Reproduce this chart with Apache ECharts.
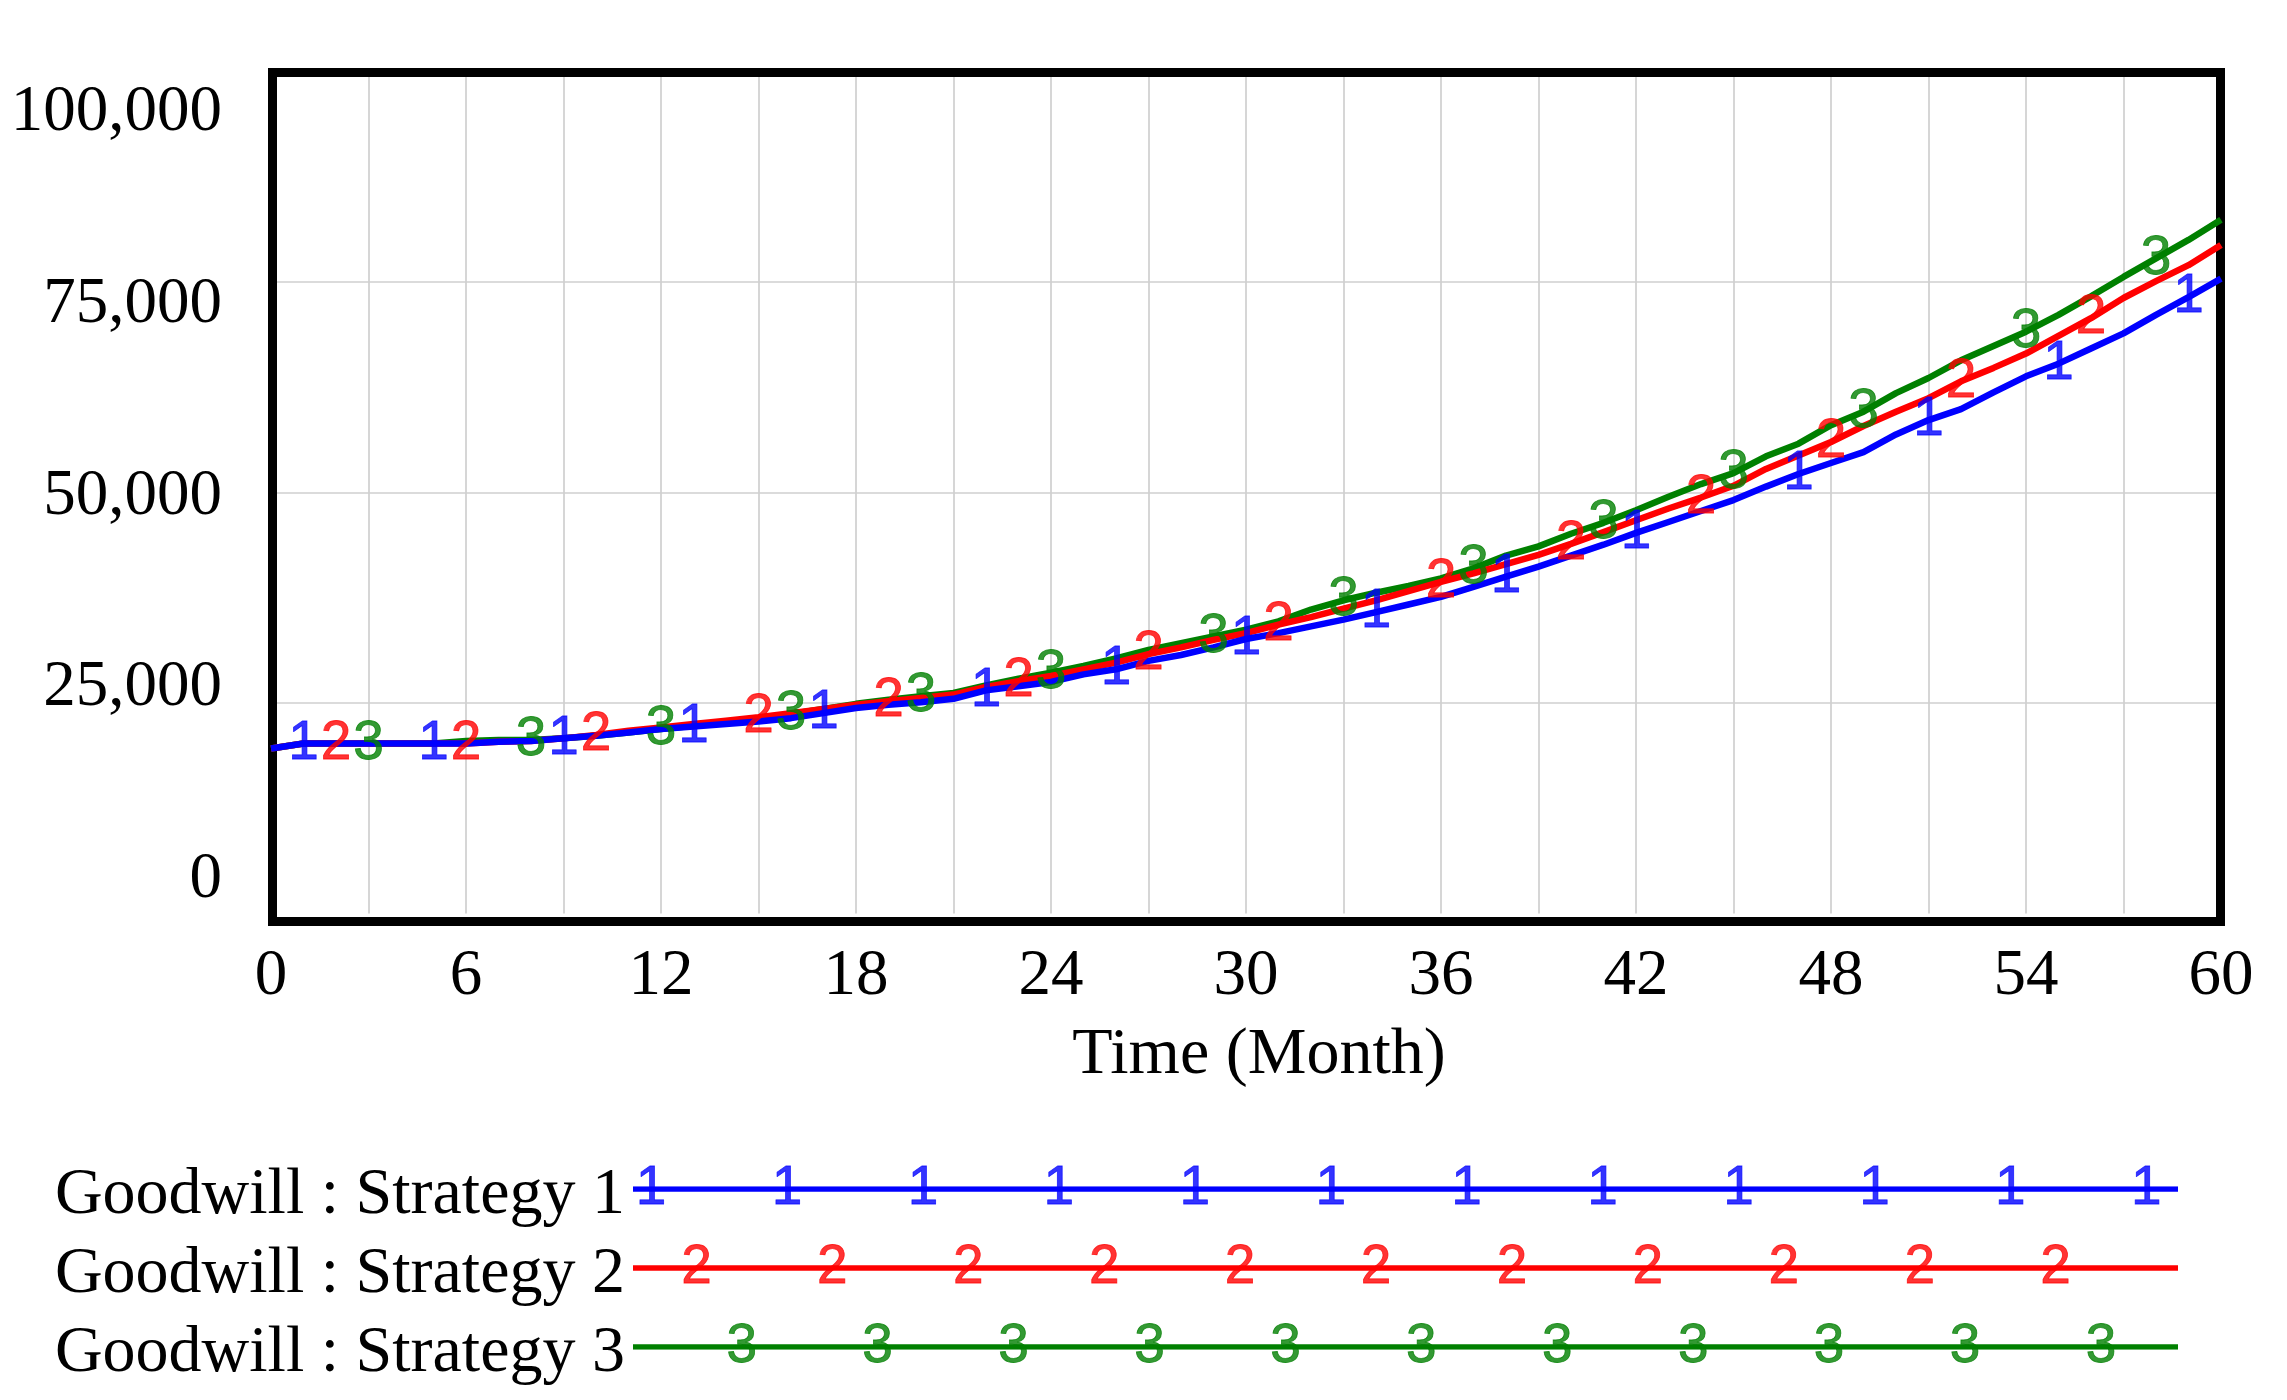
<!DOCTYPE html>
<html><head><meta charset="utf-8">
<script src="https://cdn.jsdelivr.net/npm/echarts@6/dist/echarts.min.js"></script>
<style>html,body{margin:0;padding:0;background:#fff}#c{width:2287px;height:1400px}</style>
</head><body><div id="c"></div>
<script>
// ---- data ----
const seriesNames = ['Goodwill : Strategy 1', 'Goodwill : Strategy 2', 'Goodwill : Strategy 3'];
const seriesColors = ['#0000ff', '#ff0000', '#008000'];
const markerDigits = ['1', '2', '3'];

const months = [0,1,2,3,4,5,6,7,8,9,10,11,12,13,14,15,16,17,18,19,20,21,22,23,24,25,26,27,28,29,30,
  31,32,33,34,35,36,37,38,39,40,41,42,43,44,45,46,47,48,49,50,51,52,53,54,55,56,57,58,59,60];

const strategy1 = [19600,20200,20200,20200,20200,20200,20200,20400,20500,20800,21100,21500,21900,22200,22500,22800,
  23200,23800,24400,24800,25100,25500,26500,27000,27500,28400,29000,30000,30700,31600,32600,
  33300,34100,34900,35800,36700,37600,38800,40000,41200,42500,43800,45200,46500,47800,49100,
  50700,52200,53500,54800,56900,58600,59900,61900,63800,65300,67100,68900,71100,73200,75400];

const strategy2 = [19600,20200,20200,20200,20200,20200,20200,20400,20500,20800,21200,21700,22100,22500,22900,23300,
  23800,24300,24800,25200,25600,26000,26900,27600,28200,29000,29800,30800,31600,32500,33300,
  34300,35200,36200,37200,38300,39400,40400,41500,42600,43900,45300,46700,48100,49400,50800,
  52800,54400,56000,57900,59600,61200,63200,64800,66500,68600,70700,73100,75100,77000,79400];

const strategy3 = [19600,20200,20200,20200,20200,20200,20500,20600,20600,20800,21100,21500,21900,22300,22700,23100,
  23700,24300,24900,25400,25800,26200,27100,27900,28600,29400,30300,31300,32100,32900,33700,
  34700,36100,37200,38100,38900,39800,41000,42500,43600,45100,46400,47900,49500,51000,52300,
  54300,55800,58000,59600,61800,63600,65700,67400,69100,71100,73300,75600,77800,80000,82400];

const markerMonths1 = [1,5,9,13,17,22,26,30,34,38,42,47,51,55,59];
const markerMonths2 = [2,6,10,15,19,23,27,31,36,40,44,48,52,56];
const markerMonths3 = [3,8,12,16,20,24,29,33,37,41,45,49,54,58];

// legend sample line (in legend steps) and digit positions on it
const legendLineLength = 34.1;
const legendMarks1 = [0.4,3.4,6.4,9.4,12.4,15.4,18.4,21.4,24.4,27.4,30.4,33.4];
const legendMarks2 = [1.4,4.4,7.4,10.4,13.4,16.4,19.4,22.4,25.4,28.4,31.4];
const legendMarks3 = [2.4,5.4,8.4,11.4,14.4,17.4,20.4,23.4,26.4,29.4,32.4];

const xMin = 0, xMax = 60, xInterval = 6;
const yMin = 0, yMax = 100000, yInterval = 25000;
const xName = 'Time (Month)';

// ---- chart ----
const serif = 'Liberation Serif';
const sans = 'Liberation Sans';
const gridColor = '#cfcfcf';
const values = [strategy1, strategy2, strategy3];
const markerMonths = [markerMonths1, markerMonths2, markerMonths3];
const legendMarks = [legendMarks1, legendMarks2, legendMarks3];

const digitLabel = (i) => ({
  show: true, position: 'inside', formatter: markerDigits[i], color: seriesColors[i],
  fontFamily: sans, fontSize: 55, textBorderColor: seriesColors[i], textBorderWidth: 0.8
});

const series = [];
[2, 1, 0].forEach(i => {
  series.push({
    type: 'line', name: seriesNames[i], xAxisIndex: 0, yAxisIndex: 0,
    data: months.map((m, k) => [m, values[i][k]]),
    symbol: 'none', showSymbol: false, smooth: false, clip: false,
    color: seriesColors[i], lineStyle: { width: 6.5, color: seriesColors[i] },
    z: 3, animation: false, silent: true
  });
});
[2, 1, 0].forEach(i => {
  series.push({
    type: 'scatter', xAxisIndex: 0, yAxisIndex: 0,
    data: markerMonths[i].map(m => [m, values[i][months.indexOf(m)]]),
    symbol: 'circle', symbolSize: 1, itemStyle: { color: 'rgba(0,0,0,0)' },
    label: digitLabel(i),
    z: 5, animation: false, silent: true
  });
});
[0, 1, 2].forEach(i => {
  series.push({
    type: 'line', xAxisIndex: 3, yAxisIndex: 3,
    data: [[0, i], [legendLineLength, i]],
    symbol: 'none', showSymbol: false, clip: false,
    lineStyle: { width: 5.5, color: seriesColors[i] },
    z: 3, animation: false, silent: true
  });
  series.push({
    type: 'scatter', xAxisIndex: 3, yAxisIndex: 3,
    data: legendMarks[i].map(x => [x, i]),
    symbol: 'circle', symbolSize: 1, itemStyle: { color: 'rgba(0,0,0,0)' },
    label: digitLabel(i),
    z: 5, animation: false, silent: true
  });
});

const option = {
  backgroundColor: '#ffffff',
  animation: false,
  grid: [
    { left: 271, top: 71.5, width: 1950, height: 842, show: false },
    { left: 272.5, top: 72.5, width: 1948, height: 849, show: true, borderWidth: 9,
      borderColor: '#000', backgroundColor: 'transparent', z: 1 },
    { left: 271, top: 113, width: 10, height: 767, show: false },
    { left: 633, top: 1189, width: 1545, height: 158, show: false }
  ],
  xAxis: [
    { gridIndex: 0, type: 'value', min: xMin, max: xMax, interval: xInterval,
      axisLine: { show: false }, axisTick: { show: false },
      axisLabel: { margin: 31, fontFamily: serif, fontSize: 65, color: '#000' },
      splitLine: { show: true, showMinLine: false, showMaxLine: false, lineStyle: { color: gridColor, width: 1.7 } },
      minorTick: { show: false, splitNumber: 2 },
      minorSplitLine: { show: true, lineStyle: { color: gridColor, width: 1.7 } },
      name: xName, nameLocation: 'middle', nameGap: 109,
      nameTextStyle: { fontFamily: serif, fontSize: 66, color: '#000', padding: [0, 0, 0, 26] } },
    { gridIndex: 1, type: 'value', show: false, min: 0, max: 1 },
    { gridIndex: 2, type: 'value', show: false, min: 0, max: 1 },
    { gridIndex: 3, type: 'value', show: false, min: 0, max: legendLineLength }
  ],
  yAxis: [
    { gridIndex: 0, type: 'value', min: yMin, max: yMax, interval: yInterval,
      axisLine: { show: false }, axisTick: { show: false }, axisLabel: { show: false },
      splitLine: { show: true, showMinLine: false, showMaxLine: false, lineStyle: { color: gridColor, width: 1.7 } } },
    { gridIndex: 1, type: 'value', show: false, min: 0, max: 1 },
    { gridIndex: 2, type: 'value', min: yMin, max: yMax, interval: yInterval,
      axisLine: { show: false }, axisTick: { show: false }, splitLine: { show: false },
      axisLabel: { margin: 49, fontFamily: serif, fontSize: 65, color: '#000',
        formatter: v => v.toLocaleString('en-US') } },
    { gridIndex: 3, type: 'category', data: seriesNames, inverse: true, boundaryGap: false,
      axisLine: { show: false }, axisTick: { show: false }, splitLine: { show: false },
      axisLabel: { interval: 0, margin: 8, fontFamily: serif, fontSize: 66, color: '#000',
        verticalAlign: 'top', lineHeight: 14 } }
  ],
  series: series
};

const chart = echarts.init(document.getElementById('c'), null, { renderer: 'canvas' });
chart.setOption(option);
</script>
</body></html>
